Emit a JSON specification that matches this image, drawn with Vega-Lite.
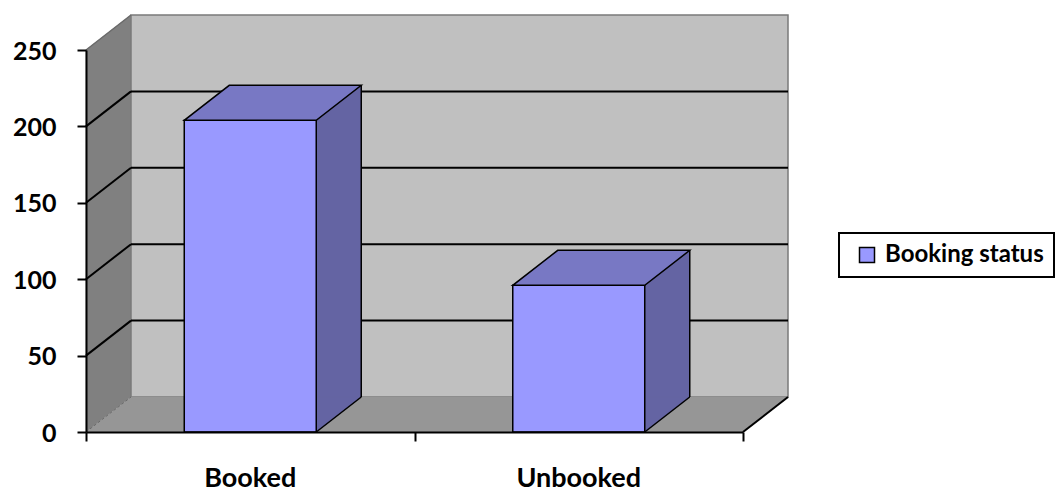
{
  "$schema": "https://vega.github.io/schema/vega-lite/v6.json",
  "width": 657,
  "height": 382,
  "autosize": {"type": "none"},
  "padding": {"left": 86, "top": 50, "right": 317, "bottom": 59},
  "background": "white",
  "config": {
    "view": {"stroke": null},
    "font": "Lato",
    "legend": {"strokeWidth": 2}
  },
  "resolve": {"scale": {"x": "independent"}, "axis": {"x": "independent"}},
  "layer": [
    {
      "data": {"values": [{"wall": "frame"}]},
      "layer": [
        {
          "mark": {"type": "rect", "fill": "#808080", "stroke": "#808080", "strokeWidth": 0.5, "x2Offset": 45, "y2Offset": -35},
          "encoding": {
            "x": {"datum": 0, "type": "quantitative", "scale": {"domain": [0, 2], "nice": false, "zero": false},
              "axis": {"orient": "bottom", "values": [0, 1, 2], "labels": false, "ticks": true, "tickSize": 9, "tickColor": "black", "tickWidth": 2,
                "domain": true, "domainColor": "black", "domainWidth": 2, "grid": false, "title": null, "zindex": 1}},
            "x2": {"datum": 0},
            "y": {"datum": 250, "type": "quantitative", "scale": {"domain": [0, 250], "nice": false},
              "axis": {"orient": "left", "values": [0, 50, 100, 150, 200, 250], "tickSize": 9, "tickColor": "black", "tickWidth": 2,
                "domainColor": "black", "domainWidth": 2, "grid": false, "title": null, "labelFont": "Lato", "labelFontSize": 25,
                "labelFontWeight": "bold", "labelColor": "black", "labelPadding": 21, "labelOffset": 1, "zindex": 1}},
            "y2": {"datum": 0}
          }
        },
        {
          "mark": {"type": "point", "shape": "M0,0 L45,-35 L45,0 Z", "size": 4, "filled": true, "fill": "#808080", "stroke": "#808080", "strokeWidth": 0.5, "opacity": 1},
          "encoding": {"x": {"datum": 0, "type": "quantitative"}, "y": {"datum": 250, "type": "quantitative"}}
        },
        {
          "mark": {"type": "point", "shape": "M0,-35 L0,0 L45,-35 Z", "size": 4, "filled": true, "fill": "#808080", "stroke": "#808080", "strokeWidth": 0.5, "opacity": 1},
          "encoding": {"x": {"datum": 0, "type": "quantitative"}, "y": {"datum": 0, "type": "quantitative"}}
        },
        {
          "mark": {"type": "rect", "fill": "#c0c0c0", "stroke": "#7a7a7a", "strokeWidth": 1.5, "xOffset": 45, "x2Offset": 45, "yOffset": -35, "y2Offset": -35},
          "encoding": {
            "x": {"datum": 0, "type": "quantitative"}, "x2": {"datum": 2},
            "y": {"datum": 0, "type": "quantitative"}, "y2": {"datum": 250}
          }
        },
        {
          "mark": {"type": "rect", "fill": "#969696", "stroke": "#969696", "strokeWidth": 0.5, "xOffset": 45, "y2Offset": -35},
          "encoding": {
            "x": {"datum": 0, "type": "quantitative"}, "x2": {"datum": 2},
            "y": {"datum": 0, "type": "quantitative"}, "y2": {"datum": 0}
          }
        },
        {
          "mark": {"type": "point", "shape": "M0,0 L45,-35 L45,0 Z", "size": 4, "filled": true, "fill": "#969696", "stroke": "#969696", "strokeWidth": 0.5, "opacity": 1},
          "encoding": {"x": {"datum": 0, "type": "quantitative"}, "y": {"datum": 0, "type": "quantitative"}}
        },
        {
          "mark": {"type": "point", "shape": "M0,0 L0,-35 L45,-35 Z", "size": 4, "filled": true, "fill": "#969696", "stroke": "#969696", "strokeWidth": 0.5, "opacity": 1},
          "encoding": {"x": {"datum": 2, "type": "quantitative"}, "y": {"datum": 0, "type": "quantitative"}}
        },
        {
          "data": {"values": [{"v": 50}, {"v": 100}, {"v": 150}, {"v": 200}]},
          "mark": {"type": "rule", "color": "black", "strokeWidth": 2, "xOffset": 45, "x2Offset": 45, "yOffset": -35},
          "encoding": {
            "x": {"datum": 0, "type": "quantitative"}, "x2": {"datum": 2},
            "y": {"field": "v", "type": "quantitative"}
          }
        },
        {
          "data": {"values": [{"v": 50}, {"v": 100}, {"v": 150}, {"v": 200}]},
          "mark": {"type": "rule", "color": "black", "strokeWidth": 2, "x2Offset": 45, "y2Offset": -35},
          "encoding": {
            "x": {"datum": 0, "type": "quantitative"}, "x2": {"datum": 0},
            "y": {"field": "v", "type": "quantitative"}, "y2": {"field": "v"}
          }
        },
        {
          "mark": {"type": "rule", "color": "#6a6a6a", "strokeWidth": 1.5, "x2Offset": 45, "y2Offset": -35},
          "encoding": {
            "x": {"datum": 0, "type": "quantitative"}, "x2": {"datum": 0},
            "y": {"datum": 250, "type": "quantitative"}, "y2": {"datum": 250}
          }
        },
        {
          "mark": {"type": "rule", "color": "#6a6a6a", "strokeWidth": 1, "strokeDash": [3, 2], "x2Offset": 45, "y2Offset": -35},
          "encoding": {
            "x": {"datum": 0, "type": "quantitative"}, "x2": {"datum": 0},
            "y": {"datum": 0, "type": "quantitative"}, "y2": {"datum": 0}
          }
        },
        {
          "mark": {"type": "rule", "color": "black", "strokeWidth": 2, "x2Offset": 45, "y2Offset": -35},
          "encoding": {
            "x": {"datum": 2, "type": "quantitative"}, "x2": {"datum": 2},
            "y": {"datum": 0, "type": "quantitative"}, "y2": {"datum": 0}
          }
        }
      ]
    },
    {
      "data": {"values": [{"status": "Booked", "count": 204}, {"status": "Unbooked", "count": 96}]},
      "encoding": {
        "x": {"field": "status", "type": "nominal", "sort": null,
          "scale": {"paddingInner": 0.5982, "paddingOuter": 0.2991},
          "axis": {"orient": "bottom", "ticks": false, "domain": false, "labelAngle": 0, "labelFont": "Lato", "labelFontSize": 27,
            "labelFontWeight": "bold", "labelColor": "black", "labelPadding": 33, "title": null, "grid": false}},
        "y": {"field": "count", "type": "quantitative", "axis": {"orient": "left", "values": [0, 50, 100, 150, 200, 250], "tickSize": 9, "tickColor": "black", "tickWidth": 2,
                "domainColor": "black", "domainWidth": 2, "grid": false, "title": null, "labelFont": "Lato", "labelFontSize": 25,
                "labelFontWeight": "bold", "labelColor": "black", "labelPadding": 21, "labelOffset": 1, "zindex": 1}}
      },
      "layer": [
        {
          "mark": {"type": "bar", "fill": "#6464a3", "xOffset": 45, "x2Offset": 45, "yOffset": -35, "y2Offset": -35},
          "encoding": {"y2": {"datum": 0}}
        },
        {
          "mark": {"type": "point", "shape": "M66,-35 L66,0 L111,-35 Z", "size": 4, "filled": true, "fill": "#6464a3", "stroke": "#6464a3", "strokeWidth": 0.5, "opacity": 1},
          "encoding": {"y": {"datum": 0, "type": "quantitative"}}
        },
        {
          "mark": {"type": "bar", "stroke": "black", "strokeWidth": 1.5},
          "encoding": {
            "y2": {"datum": 0},
            "color": {"datum": "Booking status", "type": "nominal", "scale": {"range": ["#9999ff"]},
              "legend": {"title": null, "orient": "none", "legendX": 753, "legendY": 183, "strokeColor": "black", "fillColor": "white",
                "padding": 10, "symbolType": "square", "symbolSize": 225, "symbolStrokeColor": "black", "symbolStrokeWidth": 1.5,
                "symbolOffset": 6, "labelFont": "Lato", "labelFontSize": 24, "labelFontWeight": "bold", "labelColor": "black",
                "labelOffset": 6, "labelLimit": 400}}
          }
        },
        {
          "mark": {"type": "point", "shape": "M-66,0 L66,0 L111,-35 L-21,-35 Z", "size": 4, "filled": true, "fill": "#7878c4", "stroke": "black", "strokeWidth": 1.5, "opacity": 1},
          "encoding": {}
        },
        {
          "mark": {"type": "rule", "color": "black", "strokeWidth": 1.5, "xOffset": 111, "yOffset": -35, "y2Offset": -35},
          "encoding": {"y2": {"datum": 0}}
        },
        {
          "mark": {"type": "rule", "color": "black", "strokeWidth": 1.5, "xOffset": 66, "x2Offset": 111, "y2Offset": -35},
          "encoding": {"x2": {"field": "status"}, "y": {"datum": 0, "type": "quantitative"}, "y2": {"datum": 0}}
        }
      ]
    }
  ]
}
